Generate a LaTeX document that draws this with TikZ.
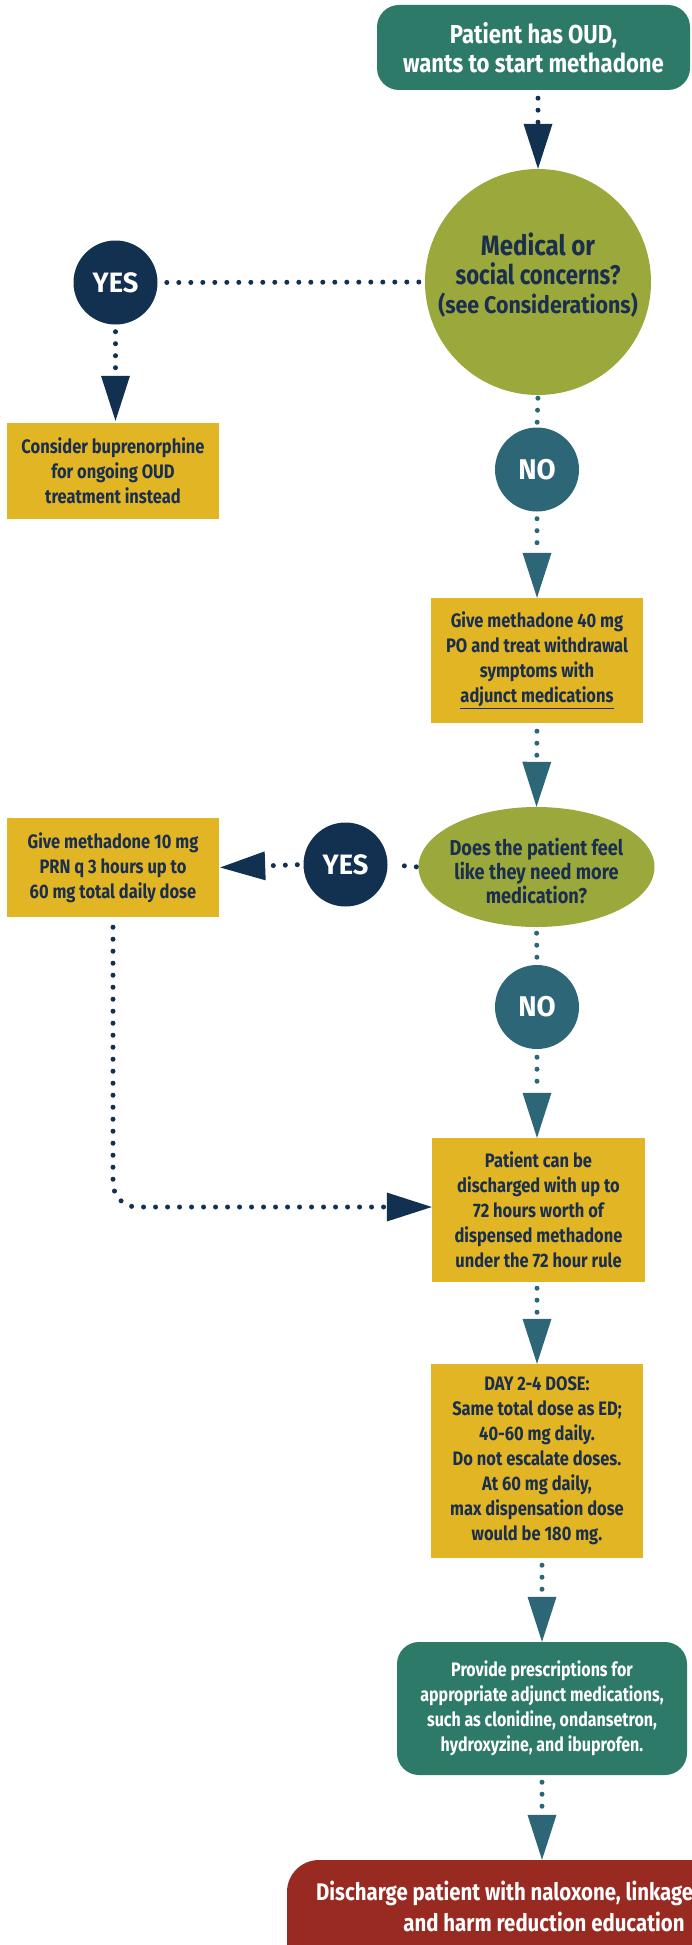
\documentclass[tikz,border=0pt]{standalone}
\usepackage{fontspec}
\setmainfont{Fira Sans}[FakeStretch=0.82]
\newfontfamily\fyellow{Fira Sans}[FakeStretch=0.845]
\newfontfamily\ftop{Fira Sans}[FakeStretch=0.85]
\newfontfamily\fmedA{Fira Sans}[FakeStretch=0.86]
\newfontfamily\fsee{Fira Sans}[FakeStretch=0.89]
\newfontfamily\fyn{Fira Sans}[FakeStretch=0.97]
\usetikzlibrary{arrows.meta,shapes.geometric,calc}

\definecolor{tealgreen}{HTML}{2D7A69}
\definecolor{navy}{HTML}{12304F}
\definecolor{tealblue}{HTML}{2C6677}
\definecolor{olive}{HTML}{9BA83B}
\definecolor{mustard}{HTML}{E2B524}
\definecolor{brick}{HTML}{992A22}
\definecolor{txtnavy}{HTML}{1A2E4E}

\tikzset{
  ybox/.style={rectangle, fill=mustard, text=txtnavy, align=center, inner sep=0pt,
    font=\fyellow\bfseries\fontsize{19.5}{25}\selectfont},
  gbox/.style={rectangle, rounded corners=22pt, fill=tealgreen, text=white, align=center, inner sep=0pt},
  yesc/.style={circle, fill=navy, text=white, minimum size=84pt, inner sep=0pt,
    font=\fyn\bfseries\fontsize{28}{28}\selectfont},
  noc/.style={circle, fill=tealblue, text=white, minimum size=84pt, inner sep=0pt,
    font=\fyn\bfseries\fontsize{28.5}{28}\selectfont},
  medline/.style={text=txtnavy, inner sep=0pt, anchor=base},
  redline/.style={text=white, inner sep=0pt, font=\ftop\bfseries\fontsize{24}{29}\selectfont},
  dotsN/.style={draw=navy, line width=5pt, line cap=round, dash pattern=on 0pt off 12pt},
  dotsT/.style={draw=tealblue, line width=5pt, line cap=round, dash pattern=on 0pt off 12pt},
  arrowtip/.style={-{Triangle[length=45pt,width=29pt,line width=0pt]}},
}

\begin{document}
\begin{tikzpicture}[x=1pt,y=-1pt]
\useasboundingbox (0,0) rectangle (692,1945);
\clip (0,0) rectangle (692,1945);

% nodes
\node[gbox, minimum width=313pt, minimum height=85pt,
  font=\ftop\bfseries\fontsize{26}{29}\selectfont] (start) at (533.5,47.5)
  {Patient has OUD,\\wants to start methadone};

\node[circle, fill=olive, minimum size=226pt, inner sep=0pt] (medical) at (538,282) {};
\node[medline, font=\fmedA\bfseries\fontsize{28}{28}\selectfont] (med1) at (538,255.5) {Medical or};
\node[medline, font=\bfseries\fontsize{27}{28}\selectfont] (med2) at (538,284.5) {social concerns?};
\node[medline, font=\fsee\bfseries\fontsize{24}{28}\selectfont] (med3) at (538,313) {(see Considerations)};

\node[yesc] (yes1) at (115.5,282.5) {YES};

\node[ybox, minimum width=212pt, minimum height=96pt] (bupe) at (113,471)
  {Consider buprenorphine\\for ongoing OUD\\treatment instead};

\node[noc] (no1) at (537,469.5) {NO};

\node[ybox, minimum width=212pt, minimum height=125pt] (give40) at (537,660.5)
  {Give methadone 40 mg\\PO and treat withdrawal\\symptoms with\\\underline{adjunct medications}};

\node[ellipse, fill=olive, minimum width=236pt, minimum height=120pt, inner sep=0pt] (feel) at (536.5,867) {};
\node[text=txtnavy, align=center, inner sep=0pt,
  font=\fyellow\bfseries\fontsize{21.5}{24}\selectfont] (feeltext) at (536.5,871)
  {Does the patient feel\\like they need more\\medication?};

\node[yesc] (yes2) at (345.5,864.5) {YES};

\node[ybox, minimum width=212pt, minimum height=99pt] (give10) at (113,867.5)
  {Give methadone 10 mg\\PRN q 3 hours up to\\60 mg total daily dose};

\node[noc] (no2) at (537,1007) {NO};

\node[ybox, minimum width=213pt, minimum height=144pt] (patient) at (538.5,1210)
  {Patient can be\\discharged with up to\\72 hours worth of\\dispensed methadone\\under the 72 hour rule};

\node[ybox, minimum width=212pt, minimum height=194pt] (day) at (537,1461)
  {DAY 2-4 DOSE:\\Same total dose as ED;\\40-60 mg daily.\\Do not escalate doses.\\At 60 mg daily,\\max dispensation dose\\would be 180 mg.};

\node[gbox, rounded corners=22pt, minimum width=290pt, minimum height=133pt,
  font=\bfseries\fontsize{19.5}{25}\selectfont] (provide) at (542,1708.5)
  {Provide prescriptions for\\appropriate adjunct medications,\\such as clonidine, ondansetron,\\hydroxyzine, and ibuprofen.};

\node[rectangle, rounded corners=32pt, fill=brick, minimum width=514pt, minimum height=140pt,
  inner sep=0pt] (discharge) at (544,1930) {};
\node[redline, anchor=west] (dis1) at (316,1893) {Discharge patient with naloxone, linkage};
\node[redline] (dis2) at (544,1922) {and harm reduction education};

% connectors
\draw[dotsN, arrowtip, shorten <=8pt] (medical.north |- start.south) -- (medical.north);
\draw[dotsN, shorten <=6pt, shorten >=2pt] (medical.west) -- (yes1.east);
\draw[dotsN, arrowtip, shorten <=7pt, shorten >=2pt] (yes1.south) -- (bupe.north -| yes1.south);
\draw[dotsT, shorten <=3pt, shorten >=4pt] (medical.south) -- (no1.north);
\draw[dotsT, arrowtip, shorten <=7pt] (no1.south) -- (give40.north);
\draw[dotsT, arrowtip, shorten <=8pt] (give40.south) -- (feel.north);
\draw[dotsN, shorten <=2pt, shorten >=6pt] (feel.west) -- (yes2.east);
\draw[dotsN, arrowtip, shorten <=6pt, shorten >=1pt] (yes2.west) -- (give10.east);
\draw[dotsT, shorten <=6pt, shorten >=4pt] (feel.south) -- (no2.north);
\draw[dotsT, arrowtip, shorten <=8pt] (no2.south) -- (patient.north -| no2.south);
\coordinate (corner) at (113,1207);
\draw[dotsN, arrowtip, rounded corners=24pt, shorten <=10pt]
  (give10.south) -- (corner) -- (patient.west |- corner);
\draw[dotsT, arrowtip, shorten <=6pt] (patient.south -| day.north) -- (day.north);
\draw[dotsT, arrowtip, shorten <=7pt] (day.south -| provide.north) -- (provide.north);
\draw[dotsT, arrowtip, shorten <=7pt] (provide.south) -- (discharge.north -| provide.south);
\end{tikzpicture}
\end{document}
